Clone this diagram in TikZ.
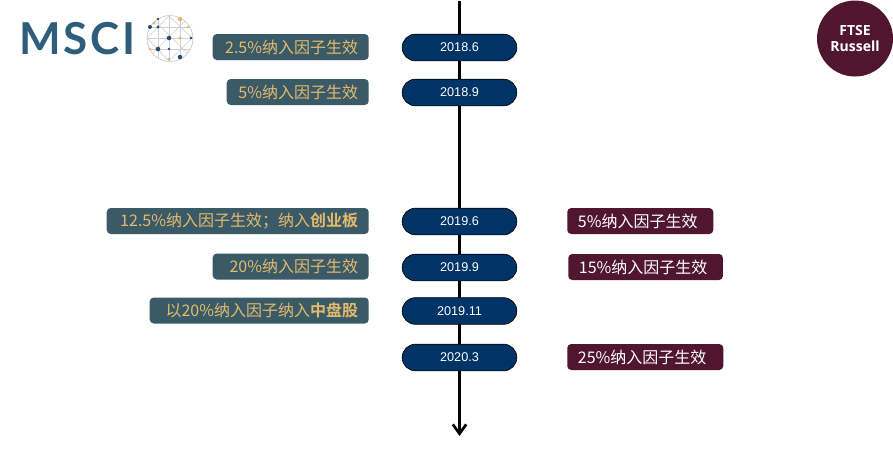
\documentclass[tikz,border=0pt]{standalone}
\usepackage{fontspec}
\setmainfont{Noto Sans CJK SC}[BoldFont={* Bold}]
\newfontfamily\datefont{Liberation Sans}
\newfontfamily\logofont{Lato}[BoldFont={* Bold}]
\newfontfamily\ftsefont{Open Sans}[BoldFont={* Bold}]
\usepackage{xcolor}
\usetikzlibrary{arrows.meta,positioning}
\definecolor{msciblue}{HTML}{2F5D7C}
\definecolor{mscislate}{HTML}{3B5A68}
\definecolor{mscigold}{HTML}{E3BB6B}
\definecolor{globegrey}{HTML}{CFCFCF}
\definecolor{globedark}{HTML}{2B4A66}
\definecolor{ftsewine}{HTML}{50162F}
\definecolor{pillnavy}{HTML}{003366}
\tikzset{
  datepill/.style={draw=black, line width=0.5pt, fill=pillnavy, text=white, rounded corners=10pt, minimum width=86pt, minimum height=20pt, inner sep=0pt, font=\datefont\fontsize{9.5}{9.5}\selectfont},
  mscibox/.style={fill=mscislate, text=mscigold, rounded corners=3pt, anchor=east, align=right, minimum height=19.5pt, inner xsep=8pt, inner ysep=0pt, font=\fontsize{12}{12}\selectfont},
  ftsebox/.style={fill=ftsewine, text=white, rounded corners=3pt, anchor=west, align=left, minimum height=19.5pt, inner xsep=8pt, inner ysep=0pt, font=\fontsize{12}{12}\selectfont},
  globedot/.style={circle, inner sep=0pt, minimum size=#1}
}
\begin{document}
\begin{tikzpicture}[x=0.75pt,y=-0.75pt]
\useasboundingbox (0,0) rectangle (893,450);
\coordinate (axistop) at (459.5,1);
\coordinate (axisend) at (459.5,436);
\draw[line width=2.25pt, -{Straight Barb[length=7pt,width=10pt,line width=2pt]}] (axistop) -- (axisend);

\node[datepill] (d201806) at (459.5,47.5) {2018.6};
\node[datepill] (d201809) at (459.5,92.5) {2018.9};
\node[datepill] (d201906) at (459.5,221.5) {2019.6};
\node[datepill] (d201909) at (459.5,267.5) {2019.9};
\node[datepill] (d201911) at (459.5,311) {2019.11};
\node[datepill] (d202003) at (459.5,357.5) {2020.3};

\node[mscibox, text width=101pt] (m201806) at (369,47) {2.5\%纳入因子生效};
\node[mscibox, text width=90.5pt] (m201809) at (369,92) {5\%纳入因子生效};
\node[mscibox, text width=180.5pt] (m201906) at (369,221) {12.5\%纳入因子生效；纳入\textbf{创业板}};
\node[mscibox, text width=101pt] (m201909) at (369,266.5) {20\%纳入因子生效};
\node[mscibox, text width=148.25pt] (m201911) at (369,310.5) {以20\%纳入因子纳入\textbf{中盘股}};

\node[ftsebox, text width=93.5pt] (f201906) at (567,221) {5\%纳入因子生效};
\node[ftsebox, text width=100pt] (f201909) at (568,267) {15\%纳入因子生效};
\node[ftsebox, text width=101pt] (f202003) at (567,357) {25\%纳入因子生效};

\node[text=msciblue, anchor=west, inner sep=0pt, font=\logofont\bfseries\fontsize{33}{33}\selectfont] (mscilogo) at (19,38.5) {M\kern2pt S\kern2pt C\kern2pt I};

\begin{scope}
\clip (170,38.5) circle [radius=23];
\draw[globegrey, line width=0.5pt] (158,10) -- (158,65) (169,10) -- (169,65) (180,10) -- (180,65);
\draw[globegrey, line width=0.5pt] (140,27) -- (200,27) (140,38) -- (200,38) (140,49) -- (200,49);
\draw[globegrey, line width=0.5pt] (169,16) -- (192,38) -- (169,61) -- (147,38) -- cycle;
\draw[globegrey, line width=0.5pt] (150,16) -- (192,58) (190,16) -- (148,58);
\end{scope}
\draw[globegrey, line width=0.6pt] (170,38.5) circle [radius=23];
\foreach \dx/\dy/\dsize in {158/19/2.2pt, 150/27/3pt, 158/27/2.6pt, 169/38/3.4pt, 191/38/2.2pt, 158/49/3.4pt, 169/49/2.2pt, 180/57/3.4pt}
  \node[globedot=\dsize, fill=globedark] at (\dx,\dy) {};
\foreach \dx/\dy/\dsize in {180/19/3.4pt, 154/23/2.6pt, 188/27/2.2pt, 180/38/2.6pt, 150/49/2.2pt, 169/59/2.6pt}
  \node[globedot=\dsize, fill=mscigold] at (\dx,\dy) {};

\node[circle, fill=ftsewine, text=white, minimum size=57pt, inner sep=0pt, align=center, font=\ftsefont\bfseries\fontsize{10.5}{11.5}\selectfont] (ftselogo) at (855,38.5) {FTSE\\Russell};
\end{tikzpicture}
\end{document}
